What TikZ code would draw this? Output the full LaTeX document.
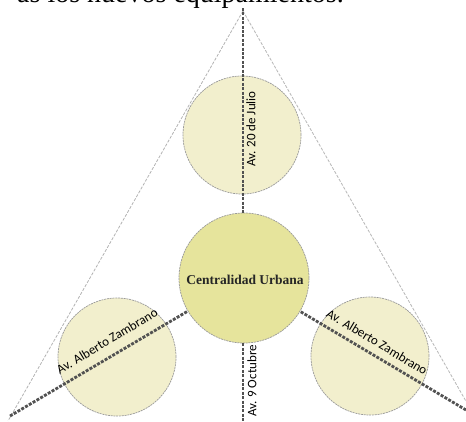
\documentclass[tikz,border=0pt]{standalone}
\usepackage{fontspec}
\setmainfont{Liberation Serif}
\newfontfamily\calib{Carlito}
\definecolor{mainfill}{HTML}{E6E49C}
\definecolor{sidefill}{HTML}{F2EFCD}
\begin{document}
\begin{tikzpicture}[x=1pt,y=-1pt,
  road/.style={draw=black!68, line width=2.8pt, dash pattern=on 3pt off 1.4pt},
  guide/.style={draw=black!30, line width=0.8pt, dash pattern=on 3pt off 1.5pt},
  sidecirc/.style={circle, draw=black!40, line width=0.7pt, dash pattern=on 2pt off 0.8pt, fill=sidefill, minimum size=118pt, inner sep=0pt},
  maincirc/.style={circle, draw=black!40, line width=0.7pt, dash pattern=on 2pt off 0.8pt, fill=mainfill, minimum size=130pt, inner sep=0pt},
  roadlabel/.style={font=\calib\fontsize{13}{15}\selectfont, inner sep=0pt, text=black}
]
\clip (0,0) rectangle (466,421);
\node[anchor=base east, font=\fontsize{28}{30}\selectfont, inner sep=0pt] (cap) at (344,2.5) {as los nuevos equipamientos.};
% guide triangle
\coordinate (apex) at (243,11);
\coordinate (gl) at (8,421);
\coordinate (gr) at (467,403);
\draw[guide] (apex) -- (gl);
\draw[guide] (apex) -- (gr);
% circles
\node[maincirc] (cc) at (244,278) {};
\node[sidecirc] (top) at (242,135) {};
\node[sidecirc] (left) at (117,357) {};
\node[sidecirc] (right) at (370,356) {};
% roads
\coordinate (ntop) at (243,8);
\coordinate (nbot) at (243,421);
\coordinate (sw) at (10,416);
\coordinate (se) at (466,410);
\draw[road] (ntop) -- (ntop |- cc.north);
\draw[road] (nbot |- cc.south) -- (nbot);
\draw[road] (sw) -- (cc);
\draw[road] (se) -- (cc);
% labels
\node[font=\bfseries\fontsize{13.5}{15}\selectfont, text=black!85] (ct) at (245,280) {Centralidad Urbana};
\node[roadlabel, rotate=90] (l1) at (251,129) {Av. 20 de Julio};
\node[roadlabel, rotate=90] (l2) at (252,381) {Av. 9 Octubre};
\node[roadlabel, rotate=31] (l3) at (107,341) {Av. Alberto Zambrano};
\node[roadlabel, rotate=-31] (l4) at (377,342) {Av. Alberto Zambrano};
\end{tikzpicture}
\end{document}
